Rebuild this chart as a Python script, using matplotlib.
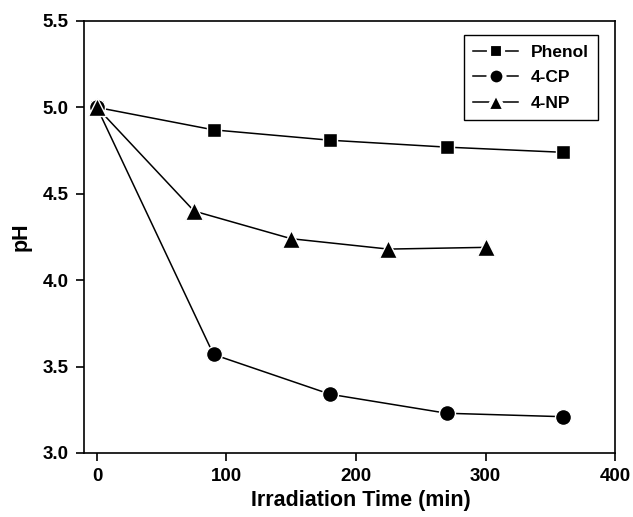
import matplotlib
matplotlib.use("Agg")
import matplotlib.pyplot as plt
from matplotlib.lines import Line2D

plt.rcParams['font.family'] = ['Liberation Sans', 'DejaVu Sans']
plt.rcParams['font.weight'] = 'bold'

t_phenol = [0, 90, 180, 270, 360]
ph_phenol = [5.0, 4.87, 4.81, 4.77, 4.74]
t_cp = [0, 90, 180, 270, 360]
ph_cp = [5.0, 3.57, 3.34, 3.23, 3.21]
t_np = [0, 75, 150, 225, 300]
ph_np = [5.0, 4.40, 4.24, 4.18, 4.19]
labels = ['Phenol', '4-CP', '4-NP']
markers = ['s', 'o', '^']
sizes = [10.5, 11.5, 12.5]

fig = plt.figure(figsize=(6.33, 5.17), dpi=100)
ax = fig.add_axes([0.1327, 0.1238, 0.839, 0.8356])

series = [(t_phenol, ph_phenol), (t_cp, ph_cp), (t_np, ph_np)]
for (t, ph), m, s in zip(series, markers, sizes):
    ax.plot(t, ph, '-', marker=m, color='black', lw=1.1, ms=s,
            markerfacecolor='black', markeredgecolor='white', markeredgewidth=1.0)

ax.set_xlim(-10, 400)
ax.set_ylim(3.0, 5.5)
ax.set_xticks([0, 100, 200, 300, 400])
ax.set_yticks([3.0, 3.5, 4.0, 4.5, 5.0, 5.5])
ax.set_yticklabels(['3.0', '3.5', '4.0', '4.5', '5.0', '5.5'])
ax.tick_params(direction='out', length=6, width=1.2, labelsize=13.5, pad=5)
for lbl in ax.get_xticklabels() + ax.get_yticklabels():
    lbl.set_fontweight('bold')
for sp in ax.spines.values():
    sp.set_linewidth(1.2)

ax.set_xlabel('Irradiation Time (min)', fontsize=15.5, fontweight='bold', labelpad=4)
ax.xaxis.set_label_coords(0.522, -0.085)
ax.set_ylabel('pH', fontsize=15.5, fontweight='bold', labelpad=8)

handles = [Line2D([], [], color='black', lw=1.1, marker=m, ms=s,
                  markerfacecolor='black', markeredgecolor='white', markeredgewidth=3)
           for m, s in zip(markers, [10.5, 11.5, 13])]
leg = ax.legend(handles, labels, loc='upper right', bbox_to_anchor=(0.968, 0.9676),
                borderaxespad=0, fancybox=False, edgecolor='black', framealpha=1,
                fontsize=12.5, handlelength=2.6, handletextpad=0.7,
                borderpad=0.55, labelspacing=0.6)
leg.get_frame().set_linewidth(1)
for txt in leg.get_texts():
    txt.set_fontweight('bold')

fig.savefig('out.png', dpi=100)
